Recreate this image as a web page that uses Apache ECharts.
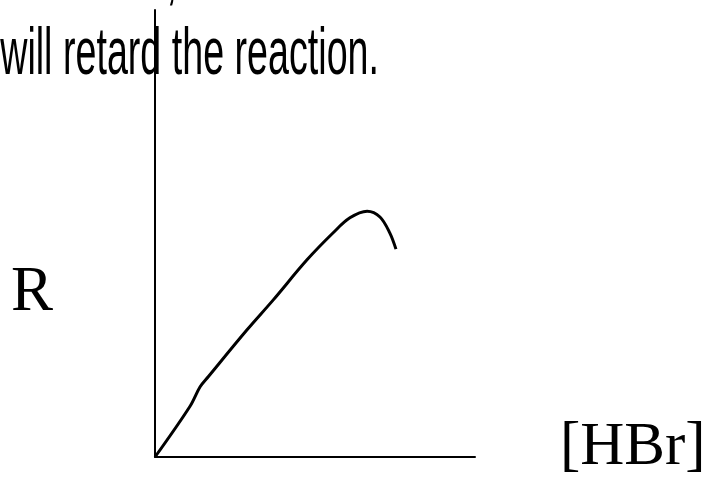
<!DOCTYPE html>
<html>
<head>
<meta charset="utf-8">
<script src="https://cdn.jsdelivr.net/npm/echarts@6/dist/echarts.min.js"></script>
<style>
  html, body { margin: 0; padding: 0; background: #fff; }
  #chart { width: 706px; height: 482px; }
</style>
</head>
<body>
<div id="chart"></div>
<script>
// sketch of rate R vs [HBr]: rises, peaks, then falls
var hbr = [0, 1.09, 1.41, 1.67, 2.87, 3.69, 4.75, 5.56, 6.09, 6.63, 7.03, 7.34, 7.53];
var rate = [0, 1.13, 1.57, 1.80, 2.84, 3.51, 4.41, 5.01, 5.35, 5.50, 5.37, 5.01, 4.65];
var xName = '[HBr]';
var yName = 'R';
var caption = 'will retard the reaction.';

var points = hbr.map(function(x, i) { return [x, rate[i]]; });

var chart = echarts.init(document.getElementById('chart'), null, { renderer: 'canvas' });
chart.setOption({
  animation: false,
  backgroundColor: '#fff',
  grid: { left: 155, top: 10, width: 320, height: 447 },
  xAxis: {
    type: 'value', min: 0, max: 10,
    axisLine: { show: true, lineStyle: { color: '#000', width: 2 } },
    axisTick: { show: false }, axisLabel: { show: false }, splitLine: { show: false }
  },
  yAxis: {
    type: 'value', min: 0, max: 10,
    axisLine: { show: true, lineStyle: { color: '#000', width: 2 } },
    axisTick: { show: false }, axisLabel: { show: false }, splitLine: { show: false }
  },
  graphic: [
    {
      type: 'text', x: 379, y: 56, scaleX: 0.562,
      style: { text: caption, x: 0, y: 0, align: 'right', verticalAlign: 'middle',
        font: '67px "Liberation Sans", Arial, sans-serif', fill: '#000' }
    },
    {
      type: 'text', x: 177, y: -21, scaleX: 0.562,
      style: { text: ',', x: 0, y: 0, align: 'right', verticalAlign: 'middle',
        font: '67px "Liberation Sans", Arial, sans-serif', fill: '#000' }
    },
    {
      type: 'text', x: 11, y: 293,
      style: { text: yName, align: 'left', verticalAlign: 'middle',
        font: '63px "Liberation Serif", "Times New Roman", serif', fill: '#000' }
    },
    {
      type: 'text', x: 560, y: 448,
      style: { text: xName, align: 'left', verticalAlign: 'middle',
        font: '61px "Liberation Serif", "Times New Roman", serif', fill: '#000' }
    }
  ],
  series: [{
    type: 'line',
    data: points,
    smooth: 0.35,
    showSymbol: false,
    lineStyle: { color: '#000', width: 3 }
  }]
});
</script>
</body>
</html>
